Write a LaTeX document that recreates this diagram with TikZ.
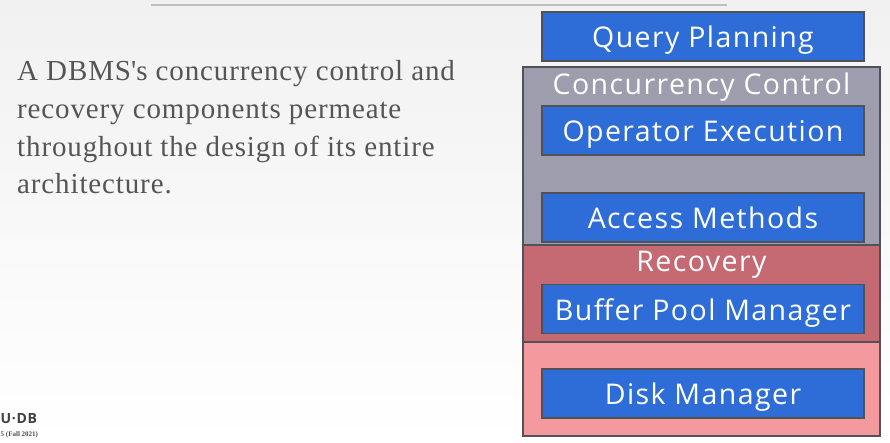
\documentclass[tikz,border=0pt]{standalone}
\usepackage{fontspec}
\setmainfont{Liberation Serif}
\newfontfamily\boxfont[LetterSpace=5]{Open Sans}
\newfontfamily\descfont[LetterSpace=3]{Liberation Serif}
\definecolor{bgtop}{HTML}{F1F1F1}
\definecolor{bgbot}{HTML}{FFFFFF}
\definecolor{blueA}{HTML}{2E6DD8}
\definecolor{edgeA}{HTML}{505258}
\definecolor{grayA}{HTML}{9D9DAD}
\definecolor{redA}{HTML}{C56A72}
\definecolor{pinkA}{HTML}{F4999D}
\definecolor{txtA}{HTML}{555555}
\begin{document}
\begin{tikzpicture}[x=1pt,y=-1pt,
  layer/.style={draw=edgeA,line width=1.6pt,minimum width=357pt,inner sep=0pt,anchor=center},
  comp/.style={draw=edgeA,line width=1.8pt,fill=blueA,text=white,minimum width=322pt,minimum height=49pt,inner sep=0pt,text height=22pt,text depth=0pt,font=\boxfont\fontsize{28.5}{30}\selectfont},
  lbl/.style={anchor=base,text=white,font=\boxfont\fontsize{28.5}{30}\selectfont,inner sep=0pt},
  desc/.style={anchor=base west,text=txtA,inner sep=0pt,font=\descfont\fontsize{29}{34}\selectfont}]
\useasboundingbox (0,0) rectangle (890,442);
\shade[top color=bgtop,bottom color=bgbot] (0,0) rectangle (890,442);
\coordinate (la) at (151,5);
\coordinate (lb) at (727,5);
\draw[line width=1.3pt,color=black!25] (la) -- (lb);
\node[layer,fill=grayA,minimum height=178pt] (cc) at (701.5,156) {};
\node[layer,fill=redA,minimum height=97pt] (rec) at (701.5,293.5) {};
\node[layer,fill=pinkA,minimum height=94pt] (disk) at (701.5,389) {};
\node[lbl] (ccl) at (701.5,94) {Concurrency Control};
\node[lbl] (recl) at (701.5,271.5) {Recovery};
\node[comp] (qp) at (703,36.5) {Query Planning};
\node[comp] (oe) at (703,130.5) {Operator Execution};
\node[comp] (am) at (703,217.5) {Access Methods};
\node[comp] (bp) at (703,309) {Buffer Pool Manager};
\node[comp] (dm) at (703,393.5) {Disk Manager};
\node[desc] (d1) at (17,80) {A DBMS\textquotesingle s concurrency control and};
\node[desc] (d2) at (17,118) {recovery components permeate};
\node[desc] (d3) at (17,156) {throughout the design of its entire};
\node[desc] (d4) at (17,193) {architecture.};
\node[anchor=west,inner sep=0pt,text=black!75,font=\boxfont\fontsize{14}{15}\selectfont\bfseries] (logo) at (0.5,419) {U·DB};
\node[anchor=west,inner sep=0pt,text=black!70,font=\fontsize{7}{8}\selectfont\bfseries] (term) at (0.5,435) {5 (Fall 2021)};
\end{tikzpicture}
\end{document}
